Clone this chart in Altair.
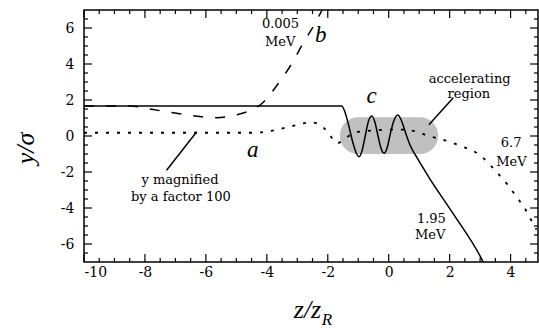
import altair as alt
import pandas as pd

# ---- data ----
# curve c : 1.95 MeV (solid)
z_c = [-10.0, -1.55, -1.45, -1.33, -1.17, -1.05, -0.97, -0.88, -0.77, -0.66, -0.55, -0.45,
       -0.35, -0.25, -0.15, -0.05, 0.05, 0.17, 0.3, 0.42, 0.55, 0.7, 0.91, 1.34, 2.11, 3.04, 3.1]
y_c = [1.67, 1.67, 1.4, 0.7, -0.4, -1.0, -1.15, -0.85, 0.0, 0.85, 1.11, 0.75,
       0.0, -0.7, -0.96, -0.65, 0.1, 0.85, 1.17, 0.85, 0.2, -0.5, -1.15, -2.35, -4.3, -6.8, -7.0]
# curve b : 0.005 MeV (dashed)
z_b = [-10.0, -8.5, -7.78, -7.07, -6.36, -5.65, -4.94, -4.5, -4.2, -3.63, -3.19, -2.81, -2.37, -2.1]
y_b = [1.67, 1.67, 1.48, 1.29, 1.11, 1.02, 1.2, 1.45, 1.75, 2.9, 4.0, 5.15, 6.4, 7.3]
# curve a : 6.7 MeV, y magnified x100 (dotted)
z_a = [-10.0, -4.45, -4.0, -3.63, -3.25, -2.92, -2.59, -2.28, -1.99, -1.7, -1.4, -1.1, -0.6,
       0.0, 0.5, 0.9, 1.3, 1.78, 2.16, 2.44, 2.98, 3.53, 3.91, 4.19, 4.46, 4.62, 4.85]
y_a = [0.18, 0.18, 0.24, 0.37, 0.52, 0.65, 0.76, 0.65, 0.2, -0.4, -0.1, 0.2, 0.3,
       0.35, 0.35, 0.25, 0.0, -0.2, -0.42, -0.6, -1.05, -1.98, -2.72, -3.37, -4.0, -4.5, -5.2]

# accelerating region (shaded)
region_z = [-1.6, 1.62]
region_y = [-1.0, 1.04]

# tick positions
x_major = [-10, -8, -6, -4, -2, 0, 2, 4]
x_minor = [-9.5, -9, -8.5, -7.5, -7, -6.5, -5.5, -5, -4.5, -3.5, -3, -2.5,
           -1.5, -1, -0.5, 0.5, 1, 1.5, 2.5, 3, 3.5, 4.5]
y_major = [-6, -4, -2, 0, 2, 4, 6]
y_minor = [-6.5, -5.5, -5, -4.5, -3.5, -3, -2.5, -1.5, -1, -0.5,
           0.5, 1, 1.5, 2.5, 3, 3.5, 4.5, 5, 5.5, 6.5]

# annotations
lab_text = ["0.005", "MeV", "accelerating", "region", "6.7", "MeV", "1.95", "MeV",
            "y  magnified", "by a factor 100"]
lab_z = [-3.55, -3.56, 2.66, 2.63, 4.02, 4.03, 1.40, 1.36, -6.85, -6.82]
lab_y = [6.20, 5.20, 3.15, 2.35, -0.40, -1.45, -4.62, -5.50, -2.45, -3.40]

ital_text = ["a", "b", "c"]
ital_z = [-4.46, -2.23, -0.56]
ital_y = [-0.78, 5.60, 2.22]

ptr_z = [-6.30, 2.12]
ptr_y = [0.24, 2.12]
ptr_z2 = [-7.29, 1.32]
ptr_y2 = [-1.90, 0.62]

W, H = 454, 252
SERIF = "Liberation Serif"
LABF = "DejaVu Serif"

xs = alt.Scale(domain=[-10, 4.9], nice=False, zero=False)
ys = alt.Scale(domain=[-7, 7], nice=False, zero=False)

x_axis = alt.Axis(values=x_major, ticks=False, domain=False, grid=False,
                  labelExpr="'' + datum.value",
                  labelFont=LABF, labelFontSize=14, labelColor="black",
                  labelPadding=3, title="z/z", titleFont=SERIF,
                  titleFontStyle="italic", titleFontWeight="normal",
                  titleFontSize=26, titleColor="black",
                  titleX=223, titleY=55, titleAlign="center",
                  titleBaseline="alphabetic")
y_axis = alt.Axis(values=y_major, ticks=False, domain=False, grid=False,
                  labelExpr="'' + datum.value",
                  labelFont=LABF, labelFontSize=14, labelColor="black",
                  labelPadding=10, title="y/σ", titleFont=SERIF,
                  titleFontStyle="italic", titleFontWeight="normal",
                  titleFontSize=26, titleColor="black", titleAngle=270,
                  titleX=-51, titleY=138, titleAlign="center",
                  titleBaseline="alphabetic")


def XE(field="z:Q"):
    return alt.X(field, scale=xs, axis=x_axis)


def YE(field="y:Q"):
    return alt.Y(field, scale=ys, axis=y_axis)


df_c = pd.DataFrame({"z": z_c, "y": y_c})
df_b = pd.DataFrame({"z": z_b, "y": y_b})
df_a = pd.DataFrame({"z": z_a, "y": y_a})
df_reg = pd.DataFrame({"z": [region_z[0]], "z2": [region_z[1]],
                       "y": [region_y[0]], "y2": [region_y[1]]})

region = alt.Chart(df_reg).mark_rect(cornerRadius=18, fill="#b9b9b9", opacity=0.9).encode(
    x=XE(), x2="z2:Q", y=YE(), y2="y2:Q")

solid = alt.Chart(df_c).mark_line(color="black", strokeWidth=1.5, interpolate="monotone",
                                  clip=True).encode(x=XE(), y=YE(), order="z:Q")

dashed = alt.Chart(df_b).mark_line(color="black", strokeWidth=1.5, strokeDash=[10, 12],
                                   interpolate="monotone", clip=True).encode(
    x=XE(), y=YE(), order="z:Q")

dotted = alt.Chart(df_a).mark_line(color="black", strokeWidth=1.8, strokeDash=[3, 8],
                                   interpolate="monotone", clip=True).encode(
    x=XE(), y=YE(), order="z:Q")

df_ptr = pd.DataFrame({"z": ptr_z, "y": ptr_y, "z2": ptr_z2, "y2": ptr_y2})
pointers = alt.Chart(df_ptr).mark_rule(color="black", strokeWidth=1.5).encode(
    x=XE(), y=YE(), x2="z2:Q", y2="y2:Q")

df_lab = pd.DataFrame({"t": lab_text, "z": lab_z, "y": lab_y})
labels = alt.Chart(df_lab).mark_text(font=LABF, fontSize=13, color="black",
                                     align="center", baseline="middle").encode(
    x=XE(), y=YE(), text="t:N")

df_it = pd.DataFrame({"t": ital_text, "z": ital_z, "y": ital_y})
ital = alt.Chart(df_it).mark_text(font=SERIF, fontSize=23, fontStyle="italic", color="black",
                                  align="center", baseline="middle").encode(
    x=XE(), y=YE(), text="t:N")

df_R = pd.DataFrame({"t": ["R"], "z": [-2.03], "y": [-10.5]})
sub_R = alt.Chart(df_R).mark_text(font=SERIF, fontSize=17, fontStyle="italic", color="black",
                                  align="center", baseline="alphabetic").encode(
    x=XE(), y=YE(), text="t:N")


def xticks(vals, length, bottom=True):
    d = pd.DataFrame({"z": vals})
    if bottom:
        yy, yy2 = alt.value(H), alt.value(H - length)
    else:
        yy, yy2 = alt.value(0), alt.value(length)
    return alt.Chart(d).mark_rule(color="black", strokeWidth=1.2).encode(
        x=XE(), y=yy, y2=yy2)


def yticks(vals, length, left=True):
    d = pd.DataFrame({"y": vals})
    if left:
        xx, xx2 = alt.value(0), alt.value(length)
    else:
        xx, xx2 = alt.value(W), alt.value(W - length)
    return alt.Chart(d).mark_rule(color="black", strokeWidth=1.2).encode(
        y=YE(), x=xx, x2=xx2)


ticks = [xticks(x_major, 8, True), xticks(x_minor, 4, True),
         xticks(x_major, 8, False), xticks(x_minor, 4, False),
         yticks(y_major, 8, True), yticks(y_minor, 4, True),
         yticks(y_major, 8, False), yticks(y_minor, 4, False)]

chart = alt.layer(region, dashed, dotted, solid, pointers, labels, ital, sub_R,
                  *ticks).properties(
    width=W, height=H,
    padding={"left": 84, "top": 10, "right": 1, "bottom": 69},
    autosize=alt.AutoSizeParams(type="none"),
    background="white",
).configure_view(stroke="black", strokeWidth=1.5)

chart.save("out.html", embed_options={"renderer": "svg", "actions": False})
